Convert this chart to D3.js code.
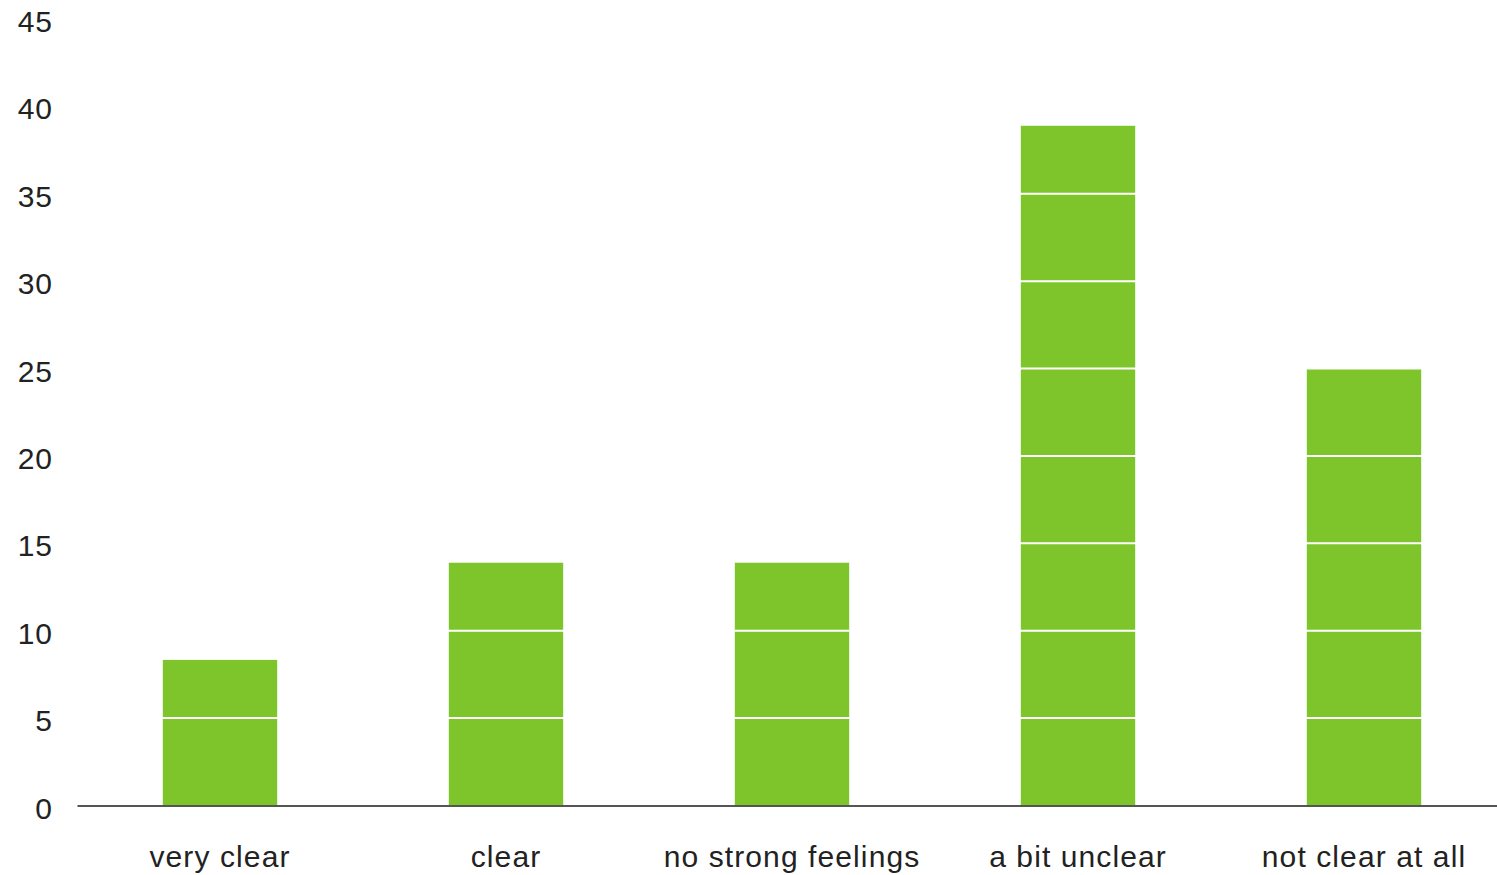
<!DOCTYPE html>
<html>
<head>
<meta charset="utf-8">
<script src="https://cdn.jsdelivr.net/npm/d3@7"></script>
<style>
  body { margin: 0; background: #fff; }
  text { font-family: "Liberation Sans", Arial, sans-serif; fill: #222; }
</style>
</head>
<body>
<div class="chart"></div>
<script>
// data: percentage of answers per category
const categories = ["very clear", "clear", "no strong feelings", "a bit unclear", "not clear at all"];
const values = [8.33, 13.89, 13.89, 38.89, 25.0];
const yTicks = [0, 5, 10, 15, 20, 25, 30, 35, 40, 45];

//Margin convention
const W = 1497, H = 875;
const margin = {top: 19, left: 77, bottom: 69.5, right: -10};
const width = W - margin.left - margin.right;
const height = H - margin.top - margin.bottom;

const svg = d3.select('.chart').append('svg')
    .attr('width', W)
    .attr('height', H)
  .append('g')
    .attr('transform', `translate(${margin.left},${margin.top})`);

//Scales
const xScale = d3.scaleBand()
    .domain(categories)
    .range([0, width])
    .paddingInner(0.6)
    .paddingOuter(0.3);

const yScale = d3.scaleLinear()
    .domain([0, 45])
    .range([height, 0]);

// bars
svg.selectAll('.bar')
    .data(values)
    .enter()
    .append('rect')
    .attr('class', 'bar')
    .attr('x', (d, i) => xScale(categories[i]))
    .attr('width', xScale.bandwidth())
    .attr('y', d => yScale(d))
    .attr('height', d => height - yScale(d))
    .attr('fill', '#7DC52A');

// white gridlines, only visible over the bars
svg.selectAll('.grid')
    .data(yTicks.filter(t => t > 0))
    .enter()
    .append('line')
    .attr('x1', 0)
    .attr('x2', width)
    .attr('y1', d => yScale(d))
    .attr('y2', d => yScale(d))
    .attr('stroke', '#fff')
    .attr('stroke-width', 2);

//y axis labels
const yAxis = d3.axisLeft(yScale)
    .tickValues(yTicks)
    .tickSize(0)
    .tickPadding(24);

svg.append('g')
    .attr('class', 'axis y-axis')
    .call(yAxis)
    .call(g => g.select('.domain').remove())
    .selectAll('text')
    .style('font-size', '30px')
    .style('letter-spacing', '1px')
    .attr('dy', '0.42em');

//x axis
const xAxis = d3.axisBottom(xScale).tickSize(0).tickPadding(40);

svg.append('g')
    .attr('class', 'axis x-axis')
    .attr('transform', `translate(0, ${height})`)
    .call(xAxis)
    .call(g => g.select('.domain').attr('stroke', '#555').attr('stroke-width', 2.2))
    .selectAll('text')
    .style('font-size', '30px')
    .style('letter-spacing', '1.1px');
</script>
</body>
</html>
